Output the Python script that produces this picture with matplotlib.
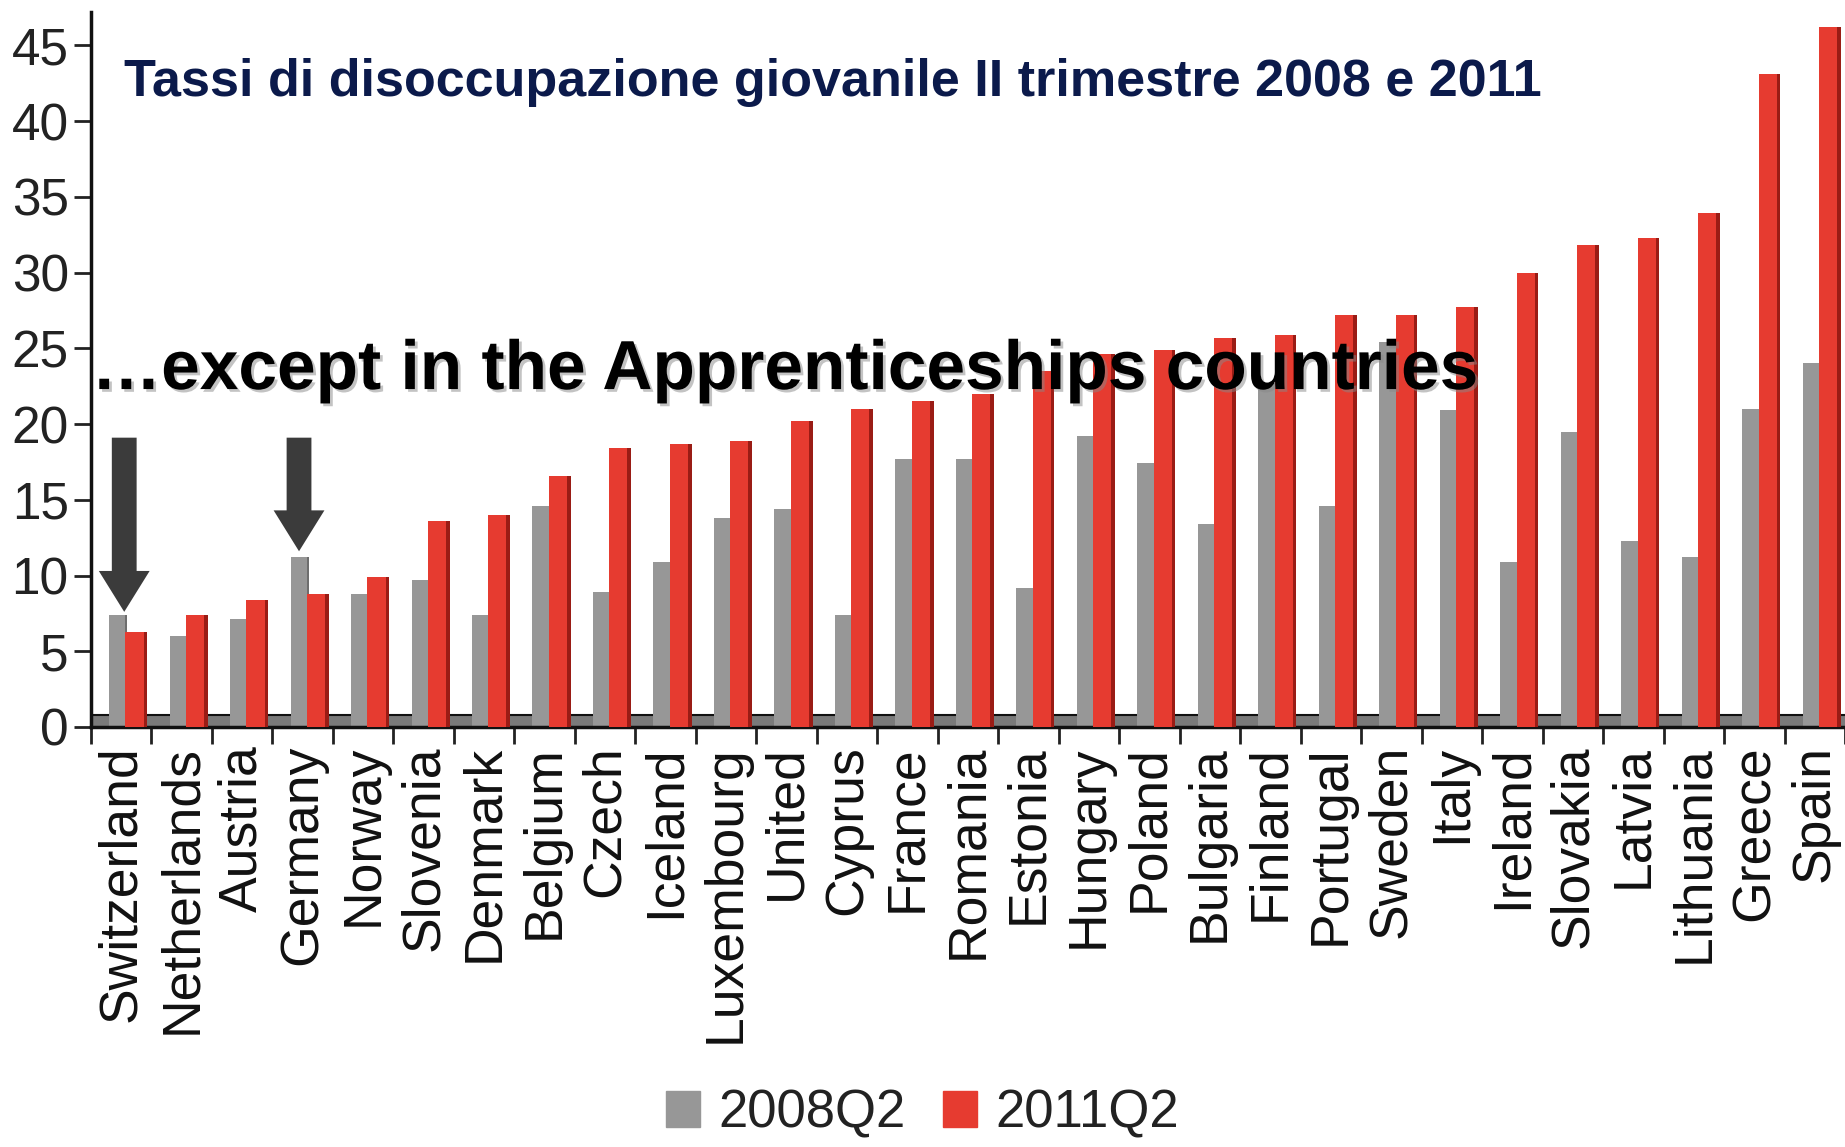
import matplotlib
matplotlib.use("Agg")
import matplotlib.pyplot as plt
from matplotlib.patches import Patch
import matplotlib.patheffects as pe
import numpy as np

countries = ["Switzerland", "Netherlands", "Austria", "Germany", "Norway", "Slovenia",
             "Denmark", "Belgium", "Czech", "Iceland", "Luxembourg", "United", "Cyprus",
             "France", "Romania", "Estonia", "Hungary", "Poland", "Bulgaria", "Finland",
             "Portugal", "Sweden", "Italy", "Ireland", "Slovakia", "Latvia", "Lithuania",
             "Greece", "Spain"]
q2008 = [7.4, 6.0, 7.1, 11.2, 8.8, 9.7, 7.4, 14.6, 8.9, 10.9, 13.8, 14.4, 7.4,
         17.7, 17.7, 9.2, 19.2, 17.4, 13.4, 22.7, 14.6, 25.4, 20.9, 10.9, 19.5, 12.3,
         11.2, 21.0, 24.0]
q2011 = [6.3, 7.4, 8.4, 8.8, 9.9, 13.6, 14.0, 16.6, 18.4, 18.7, 18.9, 20.2, 21.0,
         21.5, 22.0, 23.5, 24.6, 24.9, 25.7, 25.9, 27.2, 27.2, 27.7, 30.0, 31.8, 32.3,
         33.9, 43.1, 46.2]
series_names = ["2008Q2", "2011Q2"]
yticks = [0, 5, 10, 15, 20, 25, 30, 35, 40, 45]
title = "Tassi di disoccupazione giovanile II trimestre 2008 e 2011"
overlay = "\u2026except in the Apprenticeships countries"
arrow_targets = ["Switzerland", "Germany"]

GRAY = "#979797"
GRAY_DARK = "#6e6e6e"
RED = "#e63b30"
RED_DARK = "#9a1c15"

plt.rcParams['font.family'] = ['Liberation Sans', 'DejaVu Sans']

fig = plt.figure(figsize=(18.45, 11.47), dpi=100)
ax = fig.add_axes([0.0493, 0.3662, 0.9507, 0.6233])

x = np.arange(len(countries))
ax.axhspan(0, 0.75, color="#7a7a7a", zorder=1, lw=0)
ax.axhline(0.8, color="#111111", lw=1.5, zorder=1.5)

ax.bar(x - 0.065, q2008, width=0.27, color=GRAY, zorder=2, lw=0)
ax.bar(x + 0.085, q2008, width=0.03, color=GRAY_DARK, zorder=2, lw=0)
ax.bar(x + 0.22, q2011, width=0.30, color=RED, zorder=3, lw=0)
ax.bar(x + 0.40, q2011, width=0.06, color=RED_DARK, zorder=3, lw=0)

ax.set_xlim(-0.5, len(countries) - 0.5)
ax.set_ylim(0, 47.2)
ax.set_yticks(yticks)
ax.set_yticklabels([str(t) for t in yticks], fontsize=37, color="#222222")
ax.set_xticks(x)
ax.set_xticklabels(countries, rotation=90, fontsize=38.5, color="#111111")
ax.tick_params(axis='x', which='major', length=0, pad=13)
ax.set_xticks(np.arange(len(countries) + 1) - 0.5, minor=True)
ax.tick_params(axis='x', which='minor', length=12, width=2, color="#222222")
ax.tick_params(axis='y', length=12, width=2, color="#222222", pad=4)
for s in ["top", "right"]:
    ax.spines[s].set_visible(False)
for s in ["left", "bottom"]:
    ax.spines[s].set_linewidth(2.5)
    ax.spines[s].set_color("#111111")

# arrows
for name, tip in zip(arrow_targets, [7.6, 11.6]):
    i = countries.index(name)
    xc = i + 0.05 if i == 0 else i - 0.06
    ax.arrow(xc, 19.1, 0, -(19.1 - tip) + 2.7, width=0.41, head_width=0.84,
             head_length=2.7, length_includes_head=False, color="#3b3b3b", zorder=5, lw=0)

fig.text(0.067, 0.9285, title, fontsize=37.5, fontweight='bold', color="#0b1a4b",
         ha='left', va='center')
fig.text(0.0497, 0.6765, overlay, fontsize=50, fontweight='bold', color="black",
         ha='left', va='center', zorder=10,
         path_effects=[pe.withSimplePatchShadow(offset=(2, -2), shadow_rgbFace='#888888', alpha=0.5)])

handles = [Patch(color=GRAY, label=series_names[0]), Patch(color=RED, label=series_names[1])]
fig.legend(handles=handles, loc='lower center', bbox_to_anchor=(0.5, -0.034), ncol=2,
           frameon=False, fontsize=38, handlelength=0.65, handleheight=0.7,
           handletextpad=0.35, columnspacing=0.7, labelcolor="#222222")

fig.savefig("out.png", dpi=100)
